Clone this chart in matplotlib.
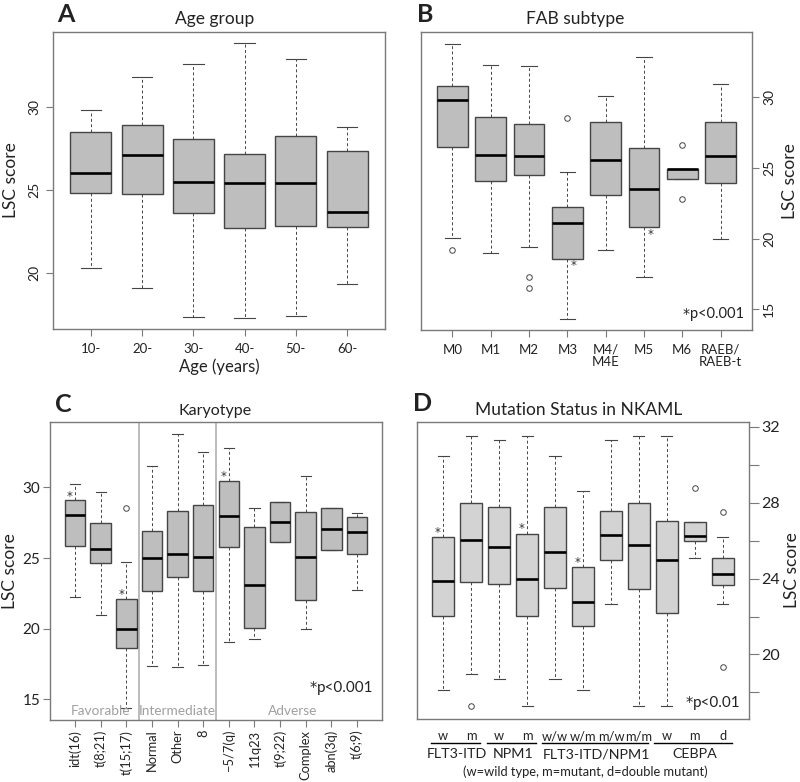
import matplotlib
matplotlib.use("Agg")
import matplotlib.pyplot as plt
import matplotlib.transforms as mtransforms

plt.rcParams['font.family'] = ['Lato', 'DejaVu Sans']

# ---------------- data ----------------
# Panel A: Age group
age_labels = ["10-", "20-", "30-", "40-", "50-", "60-"]
age_whislo = [20.26, 19.06, 17.31, 17.25, 17.39, 19.30]
age_q1 = [24.78, 24.72, 23.57, 22.67, 22.83, 22.73]
age_med = [26.00, 27.07, 25.48, 25.40, 25.38, 23.63]
age_q3 = [28.50, 28.92, 28.03, 27.13, 28.25, 27.31]
age_whishi = [29.78, 31.77, 32.55, 33.82, 32.85, 28.76]
age_fliers = [[], [], [], [], [], []]

# Panel B: FAB subtype
fab_labels = ["M0", "M1", "M2", "M3", "M4/\nM4E", "M5", "M6", "RAEB/\nRAEB-t"]
fab_whislo = [20.02, 19.00, 19.38, 14.34, 19.17, 17.26, 24.25, 19.95]
fab_q1 = [26.52, 24.09, 24.51, 18.58, 23.12, 20.79, 24.25, 23.95]
fab_med = [29.79, 25.90, 25.88, 21.12, 25.55, 23.52, 24.96, 25.88]
fab_q3 = [30.82, 28.61, 28.12, 22.21, 28.28, 26.42, 24.96, 28.23]
fab_whishi = [33.81, 32.26, 32.24, 24.75, 30.07, 32.83, 24.96, 30.92]
fab_fliers = [[19.22], [], [17.31, 16.53], [28.56], [], [], [26.66, 22.82], []]
fab_sig = [False, False, False, True, False, True, False, False]

# Panel C: Karyotype
kar_labels = ["idt(16)", "t(8;21)", "t(15;17)", "Normal", "Other", "8",
              "\u22125/7(q)", "11q23", "t(9;22)", "Complex", "abn(3q)", "t(6;9)"]
kar_whislo = [22.26, 20.99, 14.35, 17.34, 17.25, 17.39, 19.06, 19.29, 26.12, 20.00, 25.58, 22.75]
kar_q1 = [25.88, 24.66, 18.61, 22.64, 23.65, 22.64, 25.81, 20.05, 26.12, 22.00, 25.58, 25.29]
kar_med = [28.02, 25.62, 19.95, 24.99, 25.29, 25.08, 28.00, 23.06, 27.53, 25.06, 27.06, 26.87]
kar_q3 = [29.08, 27.48, 22.12, 26.89, 28.35, 28.73, 30.45, 27.18, 28.94, 28.24, 28.54, 27.93]
kar_whishi = [30.21, 29.65, 24.71, 31.51, 33.81, 32.49, 32.78, 28.56, 28.94, 30.80, 28.54, 28.19]
kar_fliers = [[], [], [28.54], [], [], [], [], [], [], [], [], []]
kar_sig = [True, False, True, False, False, False, True, False, False, False, False, False]
kar_groups = ["Favorable", "Intermediate", "Adverse"]
kar_group_sizes = [3, 3, 6]

# Panel D: Mutation status in NKAML
mut_labels = ["w", "m", "w", "m", "w/w", "w/m", "m/w", "m/m", "w", "m", "d"]
mut_whislo = [18.11, 18.97, 18.70, 17.28, 18.70, 18.11, 22.65, 17.28, 17.28, 25.10, 22.65]
mut_q1 = [22.03, 23.84, 23.69, 22.05, 23.48, 21.52, 24.98, 23.43, 22.21, 25.96, 23.64]
mut_med = [23.86, 26.01, 25.67, 23.98, 25.41, 22.79, 26.32, 25.79, 25.00, 26.22, 24.24]
mut_q3 = [26.18, 27.96, 27.77, 26.37, 27.77, 24.62, 27.56, 27.96, 27.04, 26.97, 25.10]
mut_whishi = [30.45, 31.52, 31.31, 31.52, 30.45, 28.63, 31.31, 31.52, 31.52, 26.97, 26.20]
mut_fliers = [[], [17.28], [], [], [], [], [], [], [], [28.75], [27.52, 19.35]]
mut_sig = [True, False, False, True, False, True, False, False, False, False, False]
mut_groups = ["FLT3-ITD", "NPM1", "FLT3-ITD/NPM1", "CEBPA"]
mut_group_sizes = [2, 2, 4, 3]

# ---------------- styling ----------------
W, H = 800, 782
fig = plt.figure(figsize=(8, 7.82), dpi=100)

SPINE = "#7a7a7a"
EDGE = "#454545"
TXT = "#222222"
STAR_FONT = ["DejaVu Sans"]


def px_axes(l, t, r, b):
    return fig.add_axes([l / W, 1 - b / H, (r - l) / W, (b - t) / H])


def make_stats(lo, q1, med, q3, hi, fl):
    return [dict(whislo=a, q1=b, med=c, q3=d, whishi=e, fliers=f)
            for a, b, c, d, e, f in zip(lo, q1, med, q3, hi, fl)]


def draw_box(ax, stats, face):
    n = len(stats)
    ax.bxp(stats, positions=list(range(1, n + 1)), widths=0.8, capwidths=0.4,
           patch_artist=True, showfliers=True,
           boxprops=dict(facecolor=face, edgecolor=EDGE, linewidth=1.0),
           medianprops=dict(color="black", linewidth=1.9, solid_capstyle="butt"),
           whiskerprops=dict(color=EDGE, linewidth=0.7, linestyle=(0, (3, 2.5))),
           capprops=dict(color=EDGE, linewidth=0.8),
           flierprops=dict(marker="o", markersize=4, markerfacecolor="none",
                           markeredgecolor=EDGE, markeredgewidth=0.7))
    ax.set_xlim(0.5 - 0.04 * n, n + 0.5 + 0.04 * n)
    for s in ax.spines.values():
        s.set_color(SPINE)
        s.set_linewidth(1.0)
    ax.tick_params(colors=SPINE, labelcolor=TXT, width=0.8)


def set_ylabel(ax, x, size=12.5):
    ax.set_ylabel("LSC score", fontsize=size, color=TXT, rotation=90)
    ax.yaxis.set_label_coords(x, 0.5)
    ax.yaxis.label.set_va("center")
    ax.yaxis.label.set_ha("center")


def pvalue(ax, s, y, size):
    t = ax.text(0.975, y, s, transform=ax.transAxes, ha="right", va="bottom",
                fontsize=size, color=TXT)
    ax.annotate("*", xy=(0, 1.0), xycoords=t, ha="right", va="top", fontsize=size * 0.95,
                color=TXT, family=STAR_FONT)


def star(ax, x, y, size=8.5):
    ax.text(x, y, "*", fontsize=size, ha="center", va="center", color="#333333", family=STAR_FONT)


def fig_text(x, y, s, **kw):
    fig.text(x / W, 1 - y / H, s, ha="center", va="center", color=TXT, **kw)


# ---------------- Panel A ----------------
axA = px_axes(53, 32, 385, 329)
draw_box(axA, make_stats(age_whislo, age_q1, age_med, age_q3, age_whishi, age_fliers), "#bebebe")
axA.set_ylim(16.6, 34.5)
axA.set_yticks([20, 25, 30])
axA.set_xticks(range(1, len(age_labels) + 1))
axA.set_xticklabels(age_labels, fontsize=9.5)
axA.tick_params(axis="y", labelsize=10, labelrotation=90, length=5, pad=4)
axA.tick_params(axis="x", length=5, pad=5)
for lab in axA.get_yticklabels():
    lab.set_va("center")
set_ylabel(axA, -0.128)
axA.set_xlabel("Age (years)", fontsize=12, color=TXT)
axA.xaxis.set_label_coords(0.5, -0.128)
axA.xaxis.label.set_va("center")
fig_text(66, 15, "A", fontsize=18, fontweight="bold")
fig_text(215, 19, "Age group", fontsize=12.5)

# ---------------- Panel B ----------------
axB = px_axes(421, 32, 752, 330)
fab_stats = make_stats(fab_whislo, fab_q1, fab_med, fab_q3, fab_whishi, fab_fliers)
draw_box(axB, fab_stats, "#bebebe")
axB.set_ylim(13.53, 34.63)
axB.yaxis.tick_right()
axB.yaxis.set_label_position("right")
axB.set_yticks([15, 20, 25, 30])
axB.tick_params(axis="y", labelsize=10, labelrotation=90, length=5, pad=3)
for lab in axB.get_yticklabels():
    lab.set_va("center")
axB.set_xticks(range(1, len(fab_labels) + 1))
axB.set_xticklabels(fab_labels, fontsize=9.5, linespacing=1.05)
axB.tick_params(axis="x", length=5, pad=5)
set_ylabel(axB, 1.114)
for i, (sig, st) in enumerate(zip(fab_sig, fab_stats)):
    if sig:
        star(axB, i + 1 + 0.17, st["q1"] - 0.5)
pvalue(axB, "p<0.001", 0.03, 10.5)
fig_text(425, 15, "B", fontsize=18, fontweight="bold")
fig_text(575, 19, "FAB subtype", fontsize=12.5)

# ---------------- Panel C ----------------
axC = px_axes(50, 422, 382, 720)
kar_stats = make_stats(kar_whislo, kar_q1, kar_med, kar_q3, kar_whishi, kar_fliers)
draw_box(axC, kar_stats, "#bebebe")
axC.set_ylim(13.53, 34.63)
axC.set_yticks([15, 20, 25, 30])
axC.tick_params(axis="y", labelsize=11, length=5, pad=2)
axC.set_xticks(range(1, len(kar_labels) + 1))
axC.set_xticklabels(kar_labels, fontsize=9.3, rotation=90)
axC.tick_params(axis="x", length=5, pad=2)
set_ylabel(axC, -0.12)
start = 0
for name, size in zip(kar_groups, kar_group_sizes):
    center = start + (size + 1) / 2
    axC.text(center, 14.15, name, ha="center", va="center", fontsize=9.8, color="#a0a0a0")
    if start + size < len(kar_labels):
        axC.axvline(start + size + 0.5, color="#b0b0b0", linewidth=1.2, zorder=0)
    start += size
for i, (sig, st) in enumerate(zip(kar_sig, kar_stats)):
    if sig:
        star(axC, i + 1 - 0.2, st["q3"] + 0.3)
pvalue(axC, "p<0.001", 0.085, 11)
fig_text(63, 405, "C", fontsize=18, fontweight="bold")
fig_text(215, 411, "Karyotype", fontsize=11.5)

# ---------------- Panel D ----------------
axD = px_axes(417, 422, 749, 719)
mut_stats = make_stats(mut_whislo, mut_q1, mut_med, mut_q3, mut_whishi, mut_fliers)
draw_box(axD, mut_stats, "#d3d3d3")
axD.set_ylim(16.6, 32.25)
axD.yaxis.tick_right()
axD.yaxis.set_label_position("right")
axD.set_yticks([18, 20, 22, 24, 26, 28, 30, 32])
axD.set_yticklabels(["", "20", "", "24", "", "28", "", "32"])
axD.tick_params(axis="y", labelsize=11.5, length=7, pad=2)
axD.set_xticks(range(1, len(mut_labels) + 1))
axD.set_xticklabels(mut_labels, fontsize=9.3)
axD.tick_params(axis="x", length=0, pad=8)
set_ylabel(axD, 1.13)
for i, (sig, st) in enumerate(zip(mut_sig, mut_stats)):
    if sig:
        star(axD, i + 1 - 0.2, st["q3"] + 0.25)
pvalue(axD, "p<0.01", 0.03, 11)
trD = mtransforms.blended_transform_factory(axD.transData, axD.transAxes)
start = 0
for name, size in zip(mut_groups, mut_group_sizes):
    x0 = start + 1 - 0.45
    x1 = start + size + 0.33
    axD.plot([x0, x1], [-0.08, -0.08], transform=trD, color="black", linewidth=1.0, clip_on=False)
    axD.text((start + 1 + start + size) / 2, -0.118, name, transform=trD, ha="center", va="center",
             fontsize=10.3, color=TXT)
    start += size
axD.text(0.5 + 0.008, -0.176, "(w=wild type, m=mutant, d=double mutant)", transform=axD.transAxes,
         ha="center", va="center", fontsize=9.3, color=TXT)
fig_text(423, 403, "D", fontsize=18, fontweight="bold")
fig_text(579, 410, "Mutation Status in NKAML", fontsize=12.5)

fig.savefig("out.png", dpi=100)
